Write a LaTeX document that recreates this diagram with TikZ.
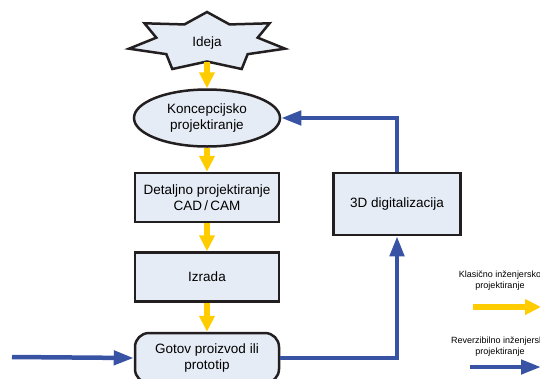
\documentclass[tikz,border=0pt]{standalone}
\usepackage{fontspec}
\setmainfont{Liberation Sans}
\usetikzlibrary{shapes.geometric,arrows.meta}
\definecolor{boxfill}{RGB}{230,236,246}
\definecolor{boxline}{RGB}{35,31,32}
\definecolor{revblue}{RGB}{57,83,164}
\definecolor{klasyel}{RGB}{255,204,0}
\tikzset{
	blok/.style={draw=boxline,line width=2.5pt,fill=boxfill,minimum width=144pt,minimum height=49pt,inner sep=2pt,align=center,font=\fontsize{13.5}{16}\selectfont},
	klas/.style={draw=klasyel,line width=5.5pt,-{Triangle[length=16pt,width=15pt]}},
	rev/.style={draw=revblue,line width=4.5pt,-{Triangle[length=20pt,width=14pt]}},
	legtext/.style={align=center,font=\fontsize{9}{11}\selectfont,inner sep=0pt}
}
\begin{document}
\begin{tikzpicture}[x=1pt,y=-1pt]
		\useasboundingbox (0,0) rectangle (540,378);
		\clip (0,0) rectangle (540,378);
		% zvijezda
		\begin{scope}[shift={(207,42)}]
			\draw[draw=boxline,line width=2.5pt,fill=boxfill,line join=miter] (90:80pt and 30pt)
			\foreach \k in {1,...,7}{ -- ({90+(2*\k-1)*180/7}:52pt and 19.5pt) -- ({90+2*\k*180/7}:80pt and 30pt)} -- cycle;
		\end{scope}
		\node[inner sep=0pt,font=\fontsize{13.5}{16}\selectfont] (ideja) at (207,43) {Ideja};
		\coordinate (idejadno) at (207,62);
		% blokovi
		\node[blok,ellipse,minimum width=146pt,minimum height=57pt] (koncept) at (207,118) {Koncepcijsko\\projektiranje};
		\node[blok] (detalj) at (207,197.5) {Detaljno projektiranje\\CAD\,/\,CAM};
		\node[blok] (izrada) at (207,277) {Izrada};
		\node[blok,rounded corners=14pt,minimum height=50pt] (gotov) at (207,358) {Gotov proizvod ili\\prototip};
		\node[blok,minimum width=127pt,minimum height=62pt] (digital) at (397,204) {3D digitalizacija};
		% klasicno
		\draw[klas] (idejadno) -- (koncept.north);
		\draw[klas] (koncept.south) -- (detalj.north);
		\draw[klas] (detalj.south) -- (izrada.north);
		\draw[klas] (izrada.south) -- (gotov.north);
		% reverzibilno
		\coordinate (ulaz) at (12,357);
		\draw[rev] (ulaz) -- (gotov.west);
		\draw[rev,line join=miter] (gotov.east) -| (digital.south);
		\draw[rev,line join=miter] (digital.north) |- (koncept.east);
		% legenda
		\node[legtext] (legklas) at (500,281) {Klasično inženjersko\\projektiranje};
		\coordinate (klasA) at (473,307);
		\coordinate (klasB) at (541,307);
		\draw[klas] (klasA) -- (klasB);
		\node[legtext] (legrev) at (500,347) {Reverzibilno inženjersko\\projektiranje};
		\coordinate (revA) at (470,367);
		\coordinate (revB) at (541,367);
		\draw[rev] (revA) -- (revB);
\end{tikzpicture}
\end{document}
